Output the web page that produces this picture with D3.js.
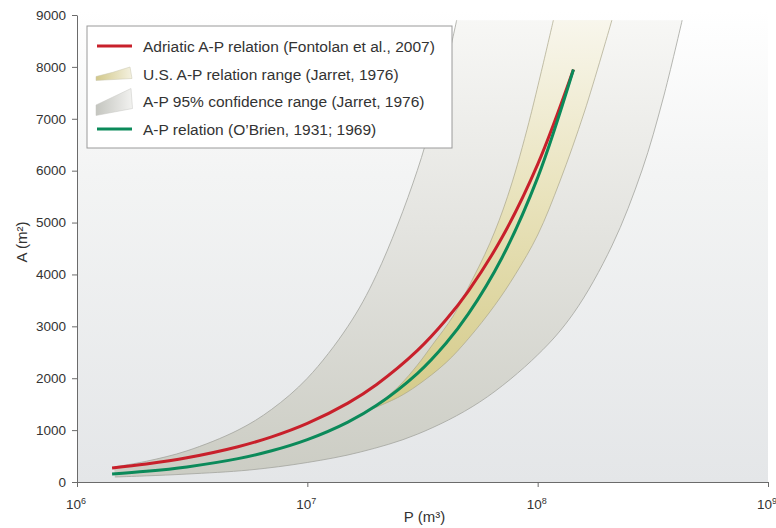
<!DOCTYPE html>
<html>
<head>
<meta charset="utf-8">
<script src="https://cdn.jsdelivr.net/npm/d3@7"></script>
<style>
  body { margin: 0; background: #fff; }
  text { font-family: "Liberation Sans", Arial, sans-serif; fill: #333; }
</style>
</head>
<body>
<script>
// values (P in m3, A in m2)
const linesP    = [1.42e6, 2e6, 3e6, 5e6, 7e6, 1e7, 1.5e7, 2e7, 3e7, 4e7, 5e7, 7e7, 1e8, 1.43e8];
const adriaticA = [270, 347, 467, 680, 870, 1130, 1521, 1880, 2531, 3126, 3680, 4711, 6121, 7950];
const obrienA   = [154, 205, 291, 450, 601, 816, 1154, 1477, 2090, 2675, 3239, 4323, 5866, 7950];

// 95% confidence range (Jarret)
const confUpperP = [1.45e6, 2e6, 3e6, 5e6, 7e6, 1e7, 1.5e7, 2e7, 3e7, 4e7, 4.45e7];
const confUpperA = [290, 400, 600, 1000, 1400, 2000, 3000, 4000, 6000, 8000, 8900];
const confLowerP = [1.46e6, 2e6, 3e6, 5.6e6, 1e7, 1.7e7, 3e7, 5.6e7, 1e8, 1.43e8, 2.1e8, 2.84e8, 3.5e8, 4.24e8];
const confLowerA = [96, 118, 153, 231, 376, 578, 920, 1541, 2450, 3250, 4550, 6012, 7380, 8900];

// U.S. relation range (Jarret)
const usUpperP = [1.92e7, 2.5e7, 3e7, 3.5e7, 4.3e7, 5e7, 6.2e7, 7.4e7, 9e7, 1.17e8];
const usUpperA = [1410, 1850, 2250, 2650, 3200, 3750, 4600, 5500, 6800, 8900];
const usLowerP = [1.92e7, 2.5e7, 3e7, 4e7, 5e7, 6.5e7, 8e7, 1e8, 1.25e8, 1.6e8, 2.1e8];
const usLowerA = [1410, 1640, 1860, 2300, 2760, 3400, 4000, 4760, 5800, 7150, 8900];

const yTicks = [0, 1000, 2000, 3000, 4000, 5000, 6000, 7000, 8000, 9000];
const xExponents = [6, 7, 8, 9];
const legendLabels = [
  "Adriatic A-P relation (Fontolan et al., 2007)",
  "U.S. A-P relation range (Jarret, 1976)",
  "A-P 95% confidence range (Jarret, 1976)",
  "A-P relation (O\u2019Brien, 1931; 1969)"
];

const width = 776;
const height = 528;
const margin = {top: 15, right: 8, bottom: 46, left: 77};
const red = "#c8202b";
const green = "#0b8a5a";

const svg = d3.select("body").append("svg")
  .attr("width", width)
  .attr("height", height);
const defs = svg.append("defs");

const x = d3.scaleLog()
  .domain([1e6, 1e9])
  .range([margin.left, width - margin.right]);
const y = d3.scaleLinear()
  .domain([0, 9000])
  .range([height - margin.bottom, margin.top]);

function vGrad(id, stops, y1, y2) {
  const g = defs.append("linearGradient").attr("id", id)
    .attr("gradientUnits", "userSpaceOnUse")
    .attr("x1", 0).attr("x2", 0).attr("y1", y1).attr("y2", y2);
  stops.forEach(s => g.append("stop").attr("offset", s[0]).attr("stop-color", s[1]));
}
function hGrad(id, stops) {
  const g = defs.append("linearGradient").attr("id", id)
    .attr("x1", 0).attr("x2", 1).attr("y1", 0).attr("y2", 0);
  stops.forEach(s => g.append("stop").attr("offset", s[0]).attr("stop-color", s[1]));
}

vGrad("bgGrad", [[0, "#ffffff"], [0.35, "#f3f4f4"], [1, "#e4e6e8"]], 10, y(0));
vGrad("confGrad", [[0, "#f7f7f5"], [0.45, "#e4e4e0"], [1, "#cbccc3"]], y(8900), y(0));
vGrad("usGrad", [[0, "#f8f6ec"], [0.45, "#e9e3bd"], [0.75, "#ddd59f"], [1, "#d4ca88"]], y(8900), y(1400));
hGrad("legUs", [[0, "#d2c88a"], [1, "#f4f1e0"]]);
hGrad("legConf", [[0, "#c4c5bf"], [1, "#f2f2f0"]]);

defs.append("clipPath").attr("id", "plotClip")
  .append("rect")
  .attr("x", x(1e6)).attr("y", 0)
  .attr("width", x(1e9) - x(1e6)).attr("height", y(0));

// plot background
svg.append("rect")
  .attr("x", x(1e6)).attr("y", 0)
  .attr("width", x(1e9) - x(1e6))
  .attr("height", y(0))
  .attr("fill", "url(#bgGrad)");

const plot = svg.append("g").attr("clip-path", "url(#plotClip)");

const edge = d3.line()
  .x(d => x(d[0]))
  .y(d => y(d[1]))
  .curve(d3.curveCatmullRom.alpha(0.5));

function band(upper, lower) {
  return edge(upper) + "L" + edge(lower.slice().reverse()).slice(1) + "Z";
}

const confUpper = d3.zip(confUpperP, confUpperA);
const confLower = d3.zip(confLowerP, confLowerA);
const usUpper = d3.zip(usUpperP, usUpperA);
const usLower = d3.zip(usLowerP, usLowerA);

plot.append("path")
  .attr("d", band(confUpper, confLower))
  .attr("fill", "url(#confGrad)");
[confUpper, confLower].forEach(e => {
  plot.append("path").attr("d", edge(e))
    .attr("fill", "none").attr("stroke", "#a3a49e").attr("stroke-width", 0.8);
});
plot.append("path")
  .attr("d", band(usUpper, usLower))
  .attr("fill", "url(#usGrad)");
[usUpper, usLower].forEach(e => {
  plot.append("path").attr("d", edge(e))
    .attr("fill", "none").attr("stroke", "#aaa68a").attr("stroke-width", 0.7);
});

const curve = d3.line()
  .x((d, i) => x(linesP[i]))
  .y(d => y(d))
  .curve(d3.curveCatmullRom.alpha(0.5));

plot.append("path")
  .attr("d", curve(adriaticA))
  .attr("fill", "none")
  .attr("stroke", red)
  .attr("stroke-width", 3);
plot.append("path")
  .attr("d", curve(obrienA))
  .attr("fill", "none")
  .attr("stroke", green)
  .attr("stroke-width", 3);

// axes
const yAxis = svg.append("g")
  .attr("transform", "translate(" + x(1e6) + ",0)")
  .call(d3.axisLeft(y).tickValues(yTicks).tickFormat(d3.format("d"))
    .tickSize(5).tickSizeOuter(0).tickPadding(6));
yAxis.selectAll("text").style("font-size", "13.5px");

const xAxis = svg.append("g")
  .attr("transform", "translate(0," + y(0) + ")")
  .call(d3.axisBottom(x).tickValues(xExponents.map(e => Math.pow(10, e)))
    .tickFormat("").tickSize(5).tickSizeOuter(0));

svg.selectAll(".domain, .tick line").attr("stroke", "#6b6b6b");

xExponents.forEach(e => {
  const t = svg.append("text")
    .attr("x", x(Math.pow(10, e)) - 1)
    .attr("y", y(0) + 27)
    .attr("text-anchor", "middle")
    .style("font-size", "13.5px");
  t.append("tspan").text("10");
  t.append("tspan").text(e).attr("dy", -5).style("font-size", "9px");
});

svg.append("text")
  .attr("x", (x(1e6) + x(1e9)) / 2 + 2)
  .attr("y", 522)
  .attr("text-anchor", "middle")
  .style("font-size", "15px")
  .text("P (m\u00b3)");

svg.append("text")
  .attr("transform", "translate(27," + 242 + ") rotate(-90)")
  .attr("text-anchor", "middle")
  .style("font-size", "15px")
  .text("A (m\u00b2)");

// legend
const legend = svg.append("g");
legend.append("rect")
  .attr("x", 87).attr("y", 26)
  .attr("width", 365).attr("height", 122)
  .attr("fill", "#fff")
  .attr("stroke", "#9a9a9a")
  .attr("stroke-width", 1);

const rowY = [46, 74, 101.5, 129];
legendLabels.forEach((label, i) => {
  legend.append("text")
    .attr("x", 143)
    .attr("y", rowY[i])
    .attr("dy", "0.36em")
    .style("font-size", "15.5px")
    .text(label);
});
legend.append("line")
  .attr("x1", 97).attr("x2", 132).attr("y1", rowY[0]).attr("y2", rowY[0])
  .attr("stroke", red).attr("stroke-width", 3);
legend.append("line")
  .attr("x1", 97).attr("x2", 132).attr("y1", rowY[3]).attr("y2", rowY[3])
  .attr("stroke", green).attr("stroke-width", 3);
legend.append("path")
  .attr("d", "M96," + (rowY[1] + 6.5) + "L132," + (rowY[1] + 4.5) + "L130," + (rowY[1] - 7)
    + "Q112," + (rowY[1] - 1) + " 96," + (rowY[1] + 2.5) + "Z")
  .attr("fill", "url(#legUs)")
  .attr("stroke", "#c9c6b0").attr("stroke-width", 0.5);
legend.append("path")
  .attr("d", "M96," + (rowY[2] + 14) + "L132.5," + (rowY[2] + 7) + "L131," + (rowY[2] - 13)
    + "Q112," + (rowY[2] - 4) + " 96," + (rowY[2] + 3.5) + "Z")
  .attr("fill", "url(#legConf)")
  .attr("stroke", "#c6c6c2").attr("stroke-width", 0.5);
</script>
</body>
</html>
